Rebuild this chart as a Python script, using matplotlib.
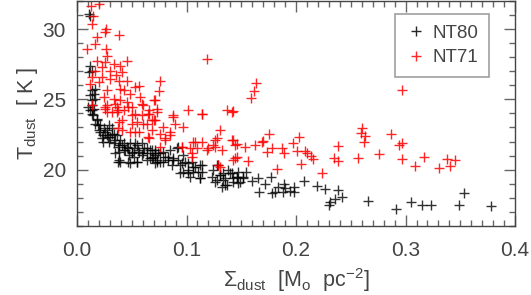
import matplotlib
matplotlib.use("Agg")
import matplotlib.pyplot as plt
from matplotlib.ticker import MultipleLocator

plt.rcParams['font.family'] = ['Liberation Sans', 'DejaVu Sans']
plt.rcParams['mathtext.fontset'] = 'custom'
plt.rcParams['mathtext.rm'] = 'Liberation Sans'
plt.rcParams['mathtext.it'] = 'Liberation Sans'
plt.rcParams['mathtext.sf'] = 'Liberation Sans'

# NT80 (black) : Sigma_dust [Msun pc^-2], T_dust [K]
nt80_sigma = [
    0.2913, 0.3053, 0.3153, 0.3233, 0.3491, 0.3534, 0.3780,
    0.2655, 0.2423, 0.2386, 0.2356, 0.2311, 0.2300, 0.2265, 0.2189, 0.2076, 0.1979, 0.1985,
    0.1890, 0.1900, 0.1878, 0.1839, 0.1808, 0.1769, 0.1717, 0.1662, 0.1650, 0.1595, 0.1540,
    0.1519, 0.1458, 0.1473, 0.1778, 0.1945,
    0.0682, 0.0712, 0.0758, 0.0804, 0.0834, 0.0879, 0.0925, 0.0956, 0.0910, 0.0971, 0.1017,
    0.1047, 0.1078, 0.1123, 0.0971, 0.1017, 0.1062, 0.1123, 0.1139, 0.0727, 0.0788, 0.0864,
    0.0690, 0.1230, 0.1260, 0.1306, 0.1290, 0.1352, 0.1367, 0.1412, 0.1427, 0.1458, 0.1336,
    0.1382, 0.1321,
    0.0107, 0.0122, 0.0122, 0.0137, 0.0107, 0.0167, 0.0137, 0.0152, 0.0122, 0.0167, 0.0137,
    0.0137, 0.0152, 0.0122,
    0.0137, 0.0183, 0.0167, 0.0213, 0.0198, 0.0258, 0.0274, 0.0228, 0.0304, 0.0335, 0.0365,
    0.0289, 0.0335, 0.0396, 0.0380, 0.0426, 0.0457, 0.0487, 0.0517, 0.0548, 0.0426, 0.0380,
    0.0502, 0.0563, 0.0609, 0.0639, 0.0669, 0.0712, 0.0594, 0.0517, 0.0472, 0.0685, 0.0639,
    0.0548, 0.0487, 0.0380, 0.0395, 0.0712, 0.0289, 0.0244,
    0.0103, 0.0134, 0.0149, 0.0180, 0.0195, 0.0210, 0.0240, 0.0240, 0.0271, 0.0286, 0.0317,
    0.0347, 0.0377, 0.0408, 0.0438, 0.0469, 0.0500, 0.0530, 0.0560, 0.0590, 0.0606, 0.0636,
    0.0667, 0.0712, 0.0728, 0.0377, 0.0469, 0.0545, 0.0347, 0.0317,
    0.0743, 0.0788, 0.0834, 0.0758, 0.0879, 0.0925, 0.0941, 0.0986, 0.1017, 0.1062, 0.1108,
    0.1139, 0.0941, 0.1032, 0.1123, 0.1245, 0.1275, 0.1306, 0.1336, 0.1352, 0.1397, 0.1427,
    0.1473, 0.1488, 0.1275, 0.1518, 0.0849,
]
nt80_temp = [
    17.22, 17.71, 17.50, 17.50, 17.50, 18.33, 17.43,
    17.81, 18.09, 18.56, 17.90, 17.67, 17.50, 18.61, 18.85, 19.20, 18.75, 18.42,
    18.99, 18.68, 18.44, 18.80, 18.44, 19.46, 18.97, 18.44, 19.39, 19.20, 19.86,
    19.39, 19.50, 19.03, 18.33, 18.51,
    21.39, 21.04, 21.16, 20.92, 20.69, 20.80, 20.69, 20.45, 21.51, 21.04, 20.45,
    20.57, 20.21, 20.33, 19.86, 19.74, 19.86, 19.39, 19.86, 20.69, 20.57, 20.33,
    20.92, 19.50, 19.15, 19.62, 20.33, 19.39, 18.92, 19.74, 19.15, 19.50, 19.74,
    19.98, 18.80,
    31.06, 30.94, 27.40, 27.05, 26.93, 25.76, 25.64, 25.40, 25.28, 25.05, 24.93,
    24.57, 24.34, 24.22,
    23.99, 23.63, 23.28, 23.16, 22.81, 22.69, 22.45, 22.22, 22.33, 22.57, 22.45,
    21.98, 21.87, 22.10, 21.75, 21.87, 21.63, 21.87, 21.51, 21.75, 21.39, 21.27,
    21.27, 21.27, 21.51, 21.16, 21.39, 21.16, 21.04, 20.92, 21.04, 20.80, 20.69,
    20.57, 20.45, 20.69, 20.57, 20.45, 23.16, 22.93,
    24.46, 24.22, 23.87, 23.51, 23.16, 22.69, 22.45, 21.98, 22.81, 22.33, 22.57,
    22.10, 21.63, 21.75, 21.39, 21.51, 21.16, 21.87, 21.39, 21.87, 21.16, 21.51,
    20.80, 21.39, 20.57, 20.57, 20.57, 20.57, 21.16, 22.93,
    21.16, 21.27, 20.92, 20.57, 20.69, 21.63, 20.33, 20.57, 19.98, 20.21, 19.86,
    20.33, 19.74, 19.50, 19.39, 19.98, 20.33, 19.62, 19.27, 18.92, 19.74, 19.39,
    19.86, 19.15, 19.27, 19.50, 21.39,
]

# NT71 (red)
nt71_sigma = [
    0.2965, 0.2865, 0.2944, 0.2968, 0.2758, 0.2965, 0.3084, 0.3166, 0.3306, 0.3376, 0.3410, 0.3452,
    0.1635, 0.1620, 0.1586, 0.2600, 0.2594, 0.2630, 0.2618, 0.2569, 0.2384, 0.2350, 0.2386,
    0.2240, 0.2030, 0.1975, 0.2012, 0.2082, 0.2100, 0.2137, 0.2152, 0.2049, 0.1869, 0.1893,
    0.1829, 0.1757, 0.1784, 0.1738, 0.1702, 0.1686, 0.1629, 0.1537, 0.1559, 0.1464, 0.1458,
    0.0727, 0.0682, 0.0788, 0.0879, 0.0895, 0.0849, 0.0804, 0.0971, 0.1139, 0.1412, 0.1306,
    0.1275, 0.1139, 0.1062, 0.1032, 0.0956, 0.1245, 0.1321, 0.1184, 0.1412, 0.1443, 0.1427,
    0.1306, 0.1047, 0.0758,
    0.1190, 0.0758, 0.0752, 0.0712, 0.1011, 0.1144, 0.1373, 0.1422, 0.0874,
    0.0128, 0.0198, 0.0146, 0.0137, 0.0268, 0.0258, 0.0380, 0.0183, 0.0167, 0.0091, 0.0268,
    0.0274, 0.0457, 0.0183, 0.0258, 0.0228, 0.0341, 0.0396, 0.0304, 0.0167, 0.0411, 0.0359,
    0.0228, 0.0137, 0.0457, 0.0380, 0.0304, 0.0198, 0.0122, 0.0532, 0.0396, 0.0426, 0.0563,
    0.0274, 0.0487, 0.0244, 0.0335, 0.0396, 0.0578, 0.0700, 0.0457, 0.0274, 0.0594, 0.0365,
    0.0502, 0.0258, 0.0654, 0.0426, 0.0320,
    0.0274, 0.0365, 0.0502, 0.0594, 0.0654, 0.0380, 0.0548, 0.0639, 0.0411, 0.0487, 0.0563,
    0.0700, 0.0654,
    0.0134, 0.0256, 0.0347, 0.0377, 0.0469, 0.0530, 0.0605, 0.0651, 0.0728, 0.0408, 0.0500,
    0.0605, 0.0712, 0.0377, 0.0530, 0.0682, 0.0651,
    0.0758, 0.0849, 0.0804, 0.1078, 0.1093, 0.1047, 0.1261, 0.1261, 0.1199, 0.1427, 0.1443,
    0.1290, 0.0956,
]
nt71_temp = [
    25.68, 22.52, 21.75, 21.91, 21.09, 20.78, 20.26, 20.92, 20.14, 20.78, 20.28, 20.71,
    26.15, 25.56, 25.09, 22.97, 22.64, 22.40, 21.98, 20.80, 21.70, 20.85, 20.61,
    19.74, 22.29, 21.87, 21.32, 21.34, 21.20, 20.97, 20.76, 20.38, 21.51, 21.20,
    20.03, 22.57, 21.56, 21.23, 22.03, 21.94, 21.75, 21.63, 20.61, 21.82, 20.87,
    24.10, 23.51, 23.04, 23.75, 23.28, 22.69, 22.22, 23.04, 23.99, 24.10, 22.81,
    22.22, 21.98, 21.98, 21.51, 21.63, 21.75, 21.39, 21.39, 22.10, 21.75, 20.69,
    20.21, 20.92, 21.63,
    27.88, 26.29, 25.59, 24.93, 24.22, 23.99, 24.27, 24.17, 23.87,
    31.65, 31.76, 30.94, 30.35, 30.00, 29.76, 29.60, 29.45, 28.94, 28.58, 28.58,
    28.11, 27.76, 27.76, 27.64, 27.28, 27.52, 27.40, 27.05, 27.05, 26.93, 26.70,
    26.58, 26.58, 26.34, 26.34, 26.46, 26.22, 26.11, 25.87, 25.76, 25.64, 25.92,
    25.64, 25.40, 25.16, 25.05, 24.93, 25.16, 24.93, 24.81, 24.57, 24.69, 24.46,
    24.46, 24.34, 24.22, 24.22, 24.10,
    24.10, 24.10, 23.87, 23.87, 23.99, 23.39, 23.39, 23.28, 22.81, 22.69, 22.69,
    23.51, 22.22,
    24.57, 24.46, 24.69, 24.22, 24.46, 23.99, 24.57, 23.99, 24.34, 23.51, 23.28,
    23.28, 23.51, 22.93, 22.69, 22.81, 22.33,
    22.57, 22.45, 22.10, 21.98, 21.51, 21.16, 22.10, 21.63, 21.51, 22.10, 20.80,
    20.33, 21.63,
]

x_ticks = [0.0, 0.1, 0.2, 0.3, 0.4]
x_tick_labels = ['0.0', '0.1', '0.2', '0.3', '0.4']
y_ticks = [20, 25, 30]
y_tick_labels = ['20', '25', '30']

txt = '#444444'
fig = plt.figure(figsize=(5.31, 2.95), dpi=100)
ax = fig.add_axes([0.145, 0.234, 0.825, 0.763])

ax.plot(nt80_sigma, nt80_temp, linestyle='none', marker='+', markersize=7.5,
        markeredgewidth=1.0, color='black', alpha=0.8, label='NT80')
ax.plot(nt71_sigma, nt71_temp, linestyle='none', marker='+', markersize=7.5,
        markeredgewidth=1.0, color='#ff0000', alpha=0.85, label='NT71')

ax.set_xlim(0.0, 0.4)
ax.set_ylim(16, 32)
ax.set_xticks(x_ticks)
ax.set_xticklabels(x_tick_labels)
ax.set_yticks(y_ticks)
ax.set_yticklabels(y_tick_labels)
ax.xaxis.set_minor_locator(MultipleLocator(0.01))
ax.yaxis.set_minor_locator(MultipleLocator(1))
ax.tick_params(which='both', direction='in', top=True, right=True, colors='#666666',
               labelcolor=txt, labelsize=15, width=1.0)
ax.tick_params(which='major', length=8)
ax.tick_params(which='minor', length=4)
ax.tick_params(axis='x', pad=11)
ax.tick_params(axis='y', pad=8)
for s in ax.spines.values():
    s.set_color('#444444')
    s.set_linewidth(1.0)

ax.set_xlabel(r'$\Sigma_{\rm dust}$  [M$_{\rm o}$  pc$^{-2}$]', fontsize=15.5, color=txt, labelpad=4)
ax.set_ylabel(r'T$_{\rm dust}$  [ K ]', fontsize=15.5, color=txt, labelpad=2)

leg = ax.legend(loc='upper right', bbox_to_anchor=(0.94, 0.94), fontsize=13.5, frameon=True,
                fancybox=False, edgecolor='#888888', handlelength=1.1, handletextpad=0.35,
                borderpad=0.55, labelspacing=0.4, borderaxespad=0.0)
leg.get_frame().set_linewidth(1.2)
for t in leg.get_texts():
    t.set_color(txt)
for h in leg.legend_handles:
    h.set_alpha(0.85)

fig.savefig('out.png', dpi=100)
